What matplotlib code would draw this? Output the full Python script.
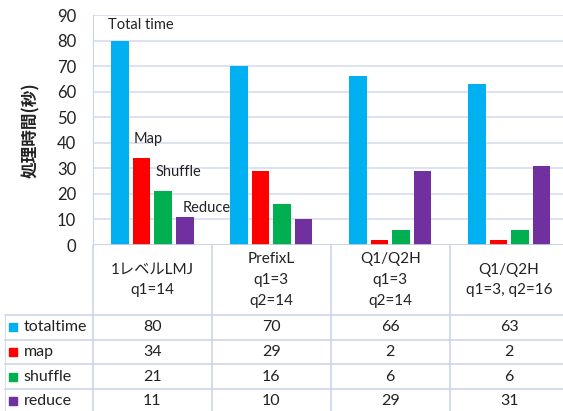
import matplotlib
matplotlib.use("Agg")
import matplotlib.pyplot as plt
import numpy as np

plt.rcParams['font.family'] = ['Lato', 'Noto Sans CJK JP', 'DejaVu Sans']

categories = ["1レベルLMJ\nq1=14", "PrefixL\nq1=3\nq2=14", "Q1/Q2H\nq1=3\nq2=14", "Q1/Q2H\nq1=3, q2=16"]
series_names = ["totaltime", "map", "shuffle", "reduce"]
totaltime = [80, 70, 66, 63]
map_vals = [34, 29, 2, 2]
shuffle = [21, 16, 6, 6]
reduce_vals = [11, 10, 29, 31]
series = [totaltime, map_vals, shuffle, reduce_vals]
colors = ["#00B0F0", "#FF0000", "#00B050", "#7030A0"]
annotations = ["Total time", "Map", "Shuffle", "Reduce"]
yticks = [0, 10, 20, 30, 40, 50, 60, 70, 80, 90]
ylabel = "処理時間(秒)"

W, H = 563, 411
fig = plt.figure(figsize=(W / 100, H / 100), dpi=100)

grid_c = "#D3DAEE"
line_c = "#C9D2E8"
txt_c = "#222222"

# main axes
L, R = 93 / W, 568.5 / W
B, T = (H - 245) / H, (H - 15) / H
ax = fig.add_axes([L, B, R - L, T - B])
x = np.arange(len(categories))
pitch = 0.181
width = 0.148
for i, (vals, c) in enumerate(zip(series, colors)):
    ax.bar(x + (i - 1.5) * pitch, vals, width, color=c, zorder=3)
ax.set_xlim(-0.5, len(categories) - 0.5)
ax.set_ylim(0, 90)
ax.set_yticks(yticks)
ax.tick_params(axis='y', length=0, pad=12, labelsize=12, labelcolor=txt_c)
ax.set_xticks([])
ax.grid(axis='y', color=grid_c, linewidth=1.1, zorder=0)
for s in ['top', 'right', 'bottom']:
    ax.spines[s].set_visible(False)
ax.spines['left'].set_color(line_c)
ax.axhline(0, color=line_c, lw=1.2, zorder=4)
ax.set_ylabel(ylabel, fontsize=12, fontweight='bold', family=['Noto Sans CJK JP'], color=txt_c)
ax.yaxis.set_label_coords(-0.112, 0.5)

# annotations in first group
ann_pos = [(-0.378, 86.1), (-0.16, 41.5), (0.025, 28.6), (0.252, 14.5)]
for txt, (ax_x, ax_y) in zip(annotations, ann_pos):
    ax.text(ax_x, ax_y, txt, fontsize=10.5, ha='left', va='center', color=txt_c, zorder=5)

# table axes
cat_w_px = 119
left_col = 88 / cat_w_px
tL = 5 / W
tax = fig.add_axes([tL, 0, R - tL, B])
tax.set_xlim(-0.5 - left_col, len(categories) - 0.5)
header = 70 / 24.7
total_rows = 166 / 24.7
tax.set_ylim(total_rows, 0)
tax.axis('off')

row_edges = [header + k for k in range(len(series) + 1)]
for y in row_edges[:-1]:
    tax.plot([-0.5 - left_col, len(categories) - 0.5], [y, y], color=line_c, lw=1.1, clip_on=False)
for k in range(len(categories)):
    tax.plot([k - 0.5, k - 0.5], [0, total_rows], color=line_c, lw=1.1)
tax.plot([-0.5 - left_col] * 2, [header, total_rows], color=line_c, lw=1.1)

for k, cat in enumerate(categories):
    tax.text(k, header / 2, cat, ha='center', va='center', fontsize=11,
             linespacing=1.62, color=txt_c)

for r, (name, vals, c) in enumerate(zip(series_names, series, colors)):
    yc = header + r + 0.5
    tax.plot(-0.5 - left_col + 0.07, yc, marker='s', ms=6, color=c, clip_on=False)
    tax.text(-0.5 - left_col + 0.155, yc, name, ha='left', va='center', fontsize=11.5, color=txt_c)
    for k, v in enumerate(vals):
        tax.text(k, yc, str(v), ha='center', va='center', fontsize=11.5, color=txt_c)

fig.savefig("out.png", dpi=100)
